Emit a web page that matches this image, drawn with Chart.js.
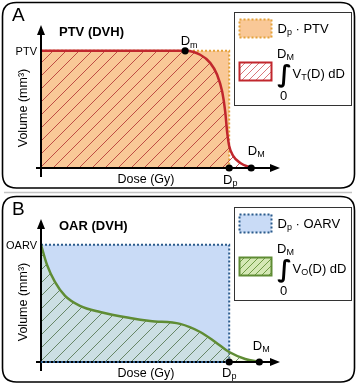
<!DOCTYPE html>
<html><head><meta charset="utf-8">
<script src="https://cdn.jsdelivr.net/npm/chart.js@4/dist/chart.umd.min.js"></script>
<style>
html,body{margin:0;padding:0;background:#fff;width:359px;height:385px;overflow:hidden}
canvas{position:absolute;left:0}
#ca{top:0}
#cb{top:194px}
</style></head><body>
<canvas id="ca" width="359" height="194"></canvas>
<canvas id="cb" width="359" height="191"></canvas>
<script>
// ---------- data ----------
const DP = 100;      // prescribed dose
const PTV = 100;     // PTV volume
const OARV = 100;    // OAR volume
// Panel A: PTV DVH
const ptvDose = [0, 76.6, 84.6, 89.9, 93.6, 96.3, 97.9, 98.9, 100, 102.1, 105.9, 111.7];
const ptvVol  = [100, 100, 96.6, 89.7, 79.5, 65, 47.9, 30.8, 18.8, 10.3, 4.3, 0];
const ptvRectDose = [0, DP, DP];
const ptvRectVol  = [PTV, PTV, 0];
const ptvMarkDose = [76.6, DP, 111.7];
const ptvMarkVol  = [PTV, 0, 0];
const ptvMarkText = [['D','m'], ['D','p'], ['D','M']];
// Panel B: OAR DVH
const oarDose = [0, 3.2, 7.4, 12.8, 20.7, 31.4, 47.3, 58.0, 73.9, 84.6, 92.6, 100, 108.5, 116];
const oarVol  = [100, 82.9, 68.4, 56.4, 47.9, 42.7, 37.6, 35.0, 32.5, 25.6, 17.1, 8.5, 2.6, 0];
const oarRectDose = [0, DP, DP];
const oarRectVol  = [OARV, OARV, 0];
const oarMarkDose = [DP, 116];
const oarMarkVol  = [0, 0];
const oarMarkText = [['D','p'], ['D','M']];
// tick labels / titles
const yTickA = 'PTV', yTickB = 'OARV';
const titleA = 'PTV (DVH)', titleB = 'OAR (DVH)';
const xTitle = 'Dose (Gy)', yTitle = 'Volume (mm\u00B3)';

const FONT = '"Liberation Sans", Arial, sans-serif';
const zip = (xs, ys) => xs.map((x, i) => ({x, y: ys[i]}));

function mkPattern(color, bg, size) {
  const c = document.createElement('canvas');
  c.width = c.height = size;
  const g = c.getContext('2d');
  if (bg) { g.fillStyle = bg; g.fillRect(0, 0, size, size); }
  g.strokeStyle = color; g.lineWidth = 1;
  g.beginPath();
  g.moveTo(0, size); g.lineTo(size, 0);
  g.moveTo(-2, 2); g.lineTo(2, -2);
  g.moveTo(size - 2, size + 2); g.lineTo(size + 2, size - 2);
  g.stroke();
  return g.createPattern(c, 'repeat');
}

function subText(ctx, x, y, main, sub, size, align) {
  ctx.save();
  ctx.textBaseline = 'middle';
  ctx.font = size + 'px ' + FONT;
  const w1 = ctx.measureText(main).width;
  ctx.font = Math.round(size * 0.7) + 'px ' + FONT;
  const w2 = ctx.measureText(sub).width;
  let x0 = x;
  if (align === 'center') x0 = x - (w1 + w2) / 2;
  ctx.textAlign = 'left';
  ctx.fillStyle = '#000';
  ctx.font = size + 'px ' + FONT;
  ctx.fillText(main, x0, y);
  ctx.font = Math.round(size * 0.7) + 'px ' + FONT;
  ctx.fillText(sub, x0 + w1, y + size * 0.25);
  ctx.restore();
  return w1 + w2;
}

function roundRect(ctx, x, y, w, h, r) {
  ctx.beginPath();
  ctx.moveTo(x + r, y);
  ctx.lineTo(x + w - r, y); ctx.quadraticCurveTo(x + w, y, x + w, y + r);
  ctx.lineTo(x + w, y + h - r); ctx.quadraticCurveTo(x + w, y + h, x + w - r, y + h);
  ctx.lineTo(x + r, y + h); ctx.quadraticCurveTo(x, y + h, x, y + h - r);
  ctx.lineTo(x, y + r); ctx.quadraticCurveTo(x, y, x + r, y);
  ctx.closePath();
}

function panelPlugin(cfg) {
  return {
    id: 'panel' + cfg.letter,
    beforeDatasetsDraw(chart) {
      // background rectangle area (Dp x volume), drawn through the scales
      const ctx = chart.ctx, xs = chart.scales.x, ys = chart.scales.y;
      const xa = xs.getPixelForValue(cfg.rectX[0]), xb = xs.getPixelForValue(cfg.rectX[1]);
      const ya = ys.getPixelForValue(cfg.rectY[0]), yb = ys.getPixelForValue(0);
      ctx.save();
      ctx.fillStyle = cfg.rectFill;
      ctx.fillRect(xa, ya, xb - xa, yb - ya);
      ctx.restore();
    },
    beforeDatasetDraw(chart, args) {
      if (args.index !== 0) return;   // draw axes just before the marker dots
      const ctx = chart.ctx, xs = chart.scales.x, ys = chart.scales.y, ca = chart.chartArea;
      const x0 = xs.getPixelForValue(0), y0 = ys.getPixelForValue(0);
      ctx.save();
      ctx.strokeStyle = '#000'; ctx.fillStyle = '#000'; ctx.lineWidth = 2;
      ctx.beginPath();
      ctx.moveTo(x0, y0 + 9); ctx.lineTo(x0, ca.top + 8);
      ctx.moveTo(x0 - 5, y0); ctx.lineTo(ca.right - 8, y0);
      ctx.stroke();
      ctx.beginPath();
      ctx.moveTo(x0, ca.top); ctx.lineTo(x0 - 4, ca.top + 10); ctx.lineTo(x0 + 4, ca.top + 10); ctx.closePath();
      ctx.moveTo(ca.right, y0); ctx.lineTo(ca.right - 10, y0 - 4); ctx.lineTo(ca.right - 10, y0 + 4); ctx.closePath();
      ctx.fill();
      if (cfg.baseDotted) {
        ctx.strokeStyle = cfg.rectBorder; ctx.lineWidth = 2; ctx.setLineDash([2, 2]);
        ctx.beginPath();
        ctx.moveTo(x0, y0); ctx.lineTo(xs.getPixelForValue(cfg.rectX[1]), y0);
        ctx.stroke();
      }
      ctx.restore();
    },
    afterDraw(chart) {
      const ctx = chart.ctx, xs = chart.scales.x, ys = chart.scales.y;
      ctx.save();
      // panel frame
      ctx.strokeStyle = '#000'; ctx.lineWidth = 1.6;
      roundRect(ctx, 2.5, 2.5, 352, 185.5, 14);
      ctx.stroke();
      if (cfg.separator) {
        ctx.strokeStyle = '#c4c4c4'; ctx.lineWidth = 1.5;
        ctx.beginPath(); ctx.moveTo(4, 192.5); ctx.lineTo(352, 192.5); ctx.stroke();
      }
      ctx.fillStyle = '#000';
      ctx.textBaseline = 'middle';
      // panel letter
      ctx.font = '19px ' + FONT; ctx.textAlign = 'left';
      ctx.fillText(cfg.letter, 12, 16);
      // title
      ctx.font = 'bold 13px ' + FONT;
      ctx.fillText(cfg.title, 59, 32);
      // y tick label
      ctx.font = '11px ' + FONT; ctx.textAlign = 'right';
      ctx.fillText(cfg.yTick, 37, ys.getPixelForValue(cfg.yTickVal) + 1);
      // axis titles
      ctx.font = '12.5px ' + FONT; ctx.textAlign = 'center';
      ctx.fillText(xTitle, 146, 180);
      ctx.save();
      ctx.translate(24, 108); ctx.rotate(-Math.PI / 2);
      ctx.fillText(yTitle, 0, 0);
      ctx.restore();
      // marker labels
      cfg.markLabels.forEach((m, i) => {
        const px = xs.getPixelForValue(cfg.markX[i]) + m.dx;
        const py = ys.getPixelForValue(cfg.markY[i]) + m.dy;
        subText(ctx, px, py, cfg.markText[i][0], cfg.markText[i][1], 13, 'center');
      });
      // legend box
      const lx = 234.5, ly = cfg.legendTop + 0.5;
      ctx.strokeStyle = '#333'; ctx.lineWidth = 1;
      ctx.strokeRect(lx, ly, 117, 93);
      // swatch 1
      ctx.fillStyle = cfg.rectFill;
      ctx.fillRect(lx + 5, ly + 7, 32, 18);
      ctx.strokeStyle = cfg.rectBorder; ctx.lineWidth = 2; ctx.setLineDash([2, 2]);
      ctx.strokeRect(lx + 5, ly + 7, 32, 18);
      ctx.setLineDash([]);
      let w = subText(ctx, lx + 43, ly + 17, 'D', 'p', 13, 'left');
      ctx.fillStyle = '#000'; ctx.font = '13px ' + FONT; ctx.textAlign = 'left'; ctx.textBaseline = 'middle';
      ctx.fillText(' \u00B7 ' + cfg.yTick, lx + 43 + w, ly + 17);
      // swatch 2
      ctx.fillStyle = cfg.swatchBg;
      ctx.fillRect(lx + 5, ly + 50, 32, 18);
      ctx.fillStyle = cfg.swatchPattern;
      ctx.fillRect(lx + 5, ly + 50, 32, 18);
      ctx.strokeStyle = cfg.curveColor; ctx.lineWidth = 2;
      ctx.strokeRect(lx + 5, ly + 50, 32, 18);
      subText(ctx, lx + 51, ly + 42, 'D', 'M', 13, 'center');
      ctx.fillStyle = '#000';
      ctx.font = 'bold 24px "DejaVu Sans", ' + FONT; ctx.textAlign = 'center'; ctx.textBaseline = 'middle';
      ctx.fillText('\u222B', lx + 50, ly + 63);
      ctx.font = '13px ' + FONT;
      ctx.fillText('0', lx + 49, ly + 84);
      w = subText(ctx, lx + 58, ly + 62, 'V', cfg.vSub, 13, 'left');
      ctx.fillStyle = '#000'; ctx.font = '13px ' + FONT; ctx.textAlign = 'left';
      ctx.fillText('(D) dD', lx + 58 + w, ly + 62);
      ctx.restore();
    }
  };
}

function makeChart(id, c) {
  return new Chart(document.getElementById(id), {
    type: 'line',
    data: {
      datasets: [
        { type: 'scatter', data: zip(c.markX, c.markY), pointRadius: 3.6, pointBackgroundColor: '#000',
          pointBorderWidth: 0, showLine: false, order: 0, clip: false },
        { data: zip(c.curveX, c.curveY), borderColor: c.curveColor, borderWidth: 2.5, fill: 'origin',
          backgroundColor: c.curvePattern, pointRadius: 0, cubicInterpolationMode: 'monotone', order: 1 },
        { data: zip(c.rectX, c.rectY), borderColor: c.rectBorder, borderWidth: 2, borderDash: [2, 2],
          fill: false, pointRadius: 0, tension: 0, order: 2 }
      ]
    },
    options: {
      responsive: false, animation: false, devicePixelRatio: 1,
      layout: { padding: { left: 41, right: 79, top: 25, bottom: c.padBottom } },
      plugins: { legend: { display: false }, tooltip: { enabled: false } },
      scales: {
        x: { type: 'linear', min: 0, max: 127, display: false },
        y: { type: 'linear', min: 0, max: 122, display: false }
      }
    },
    plugins: [panelPlugin(c)]
  });
}

makeChart('ca', {
  letter: 'A', title: titleA, yTick: yTickA, yTickVal: PTV, separator: true, padBottom: 26,
  markX: ptvMarkDose, markY: ptvMarkVol, markText: ptvMarkText,
  markLabels: [{dx: 4, dy: -9}, {dx: 1, dy: 12}, {dx: 5, dy: -17}],
  curveX: ptvDose, curveY: ptvVol, curveColor: '#c1272d',
  curvePattern: mkPattern('rgba(170,35,40,0.75)', null, 13),
  rectX: ptvRectDose, rectY: ptvRectVol, rectFill: '#f9c897', rectBorder: '#e3a13a',
  legendTop: 12, swatchBg: '#ffffff', swatchPattern: mkPattern('#d9777b', null, 7), vSub: 'T'
});
makeChart('cb', {
  letter: 'B', title: titleB, yTick: yTickB, yTickVal: OARV, separator: false, padBottom: 23, baseDotted: true,
  markX: oarMarkDose, markY: oarMarkVol, markText: oarMarkText,
  markLabels: [{dx: 0, dy: 11}, {dx: 2, dy: -16}],
  curveX: oarDose, curveY: oarVol, curveColor: '#5f8c34',
  curvePattern: mkPattern('rgba(70,105,60,0.75)', 'rgba(215,235,170,0.25)', 13),
  rectX: oarRectDose, rectY: oarRectVol, rectFill: '#c9dbf6', rectBorder: '#2b5b8c',
  legendTop: 13, swatchBg: '#d5e8b5', swatchPattern: mkPattern('#6f9a45', null, 7), vSub: 'O'
});
</script>
</body></html>
